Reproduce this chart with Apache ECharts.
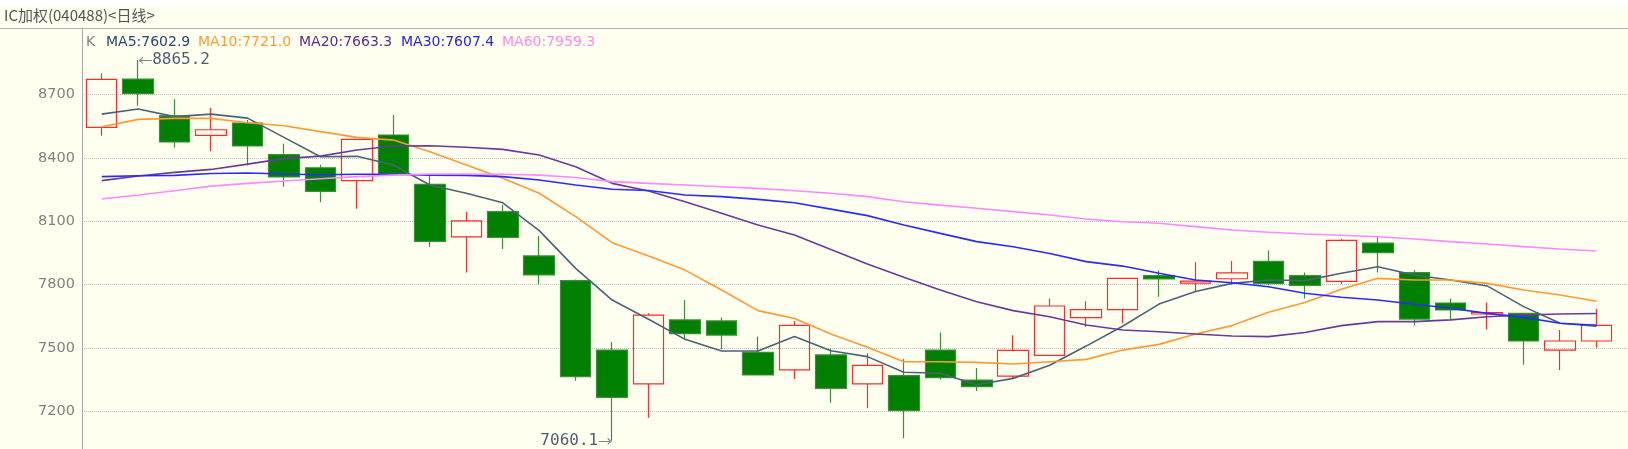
<!DOCTYPE html>
<html>
<head>
<meta charset="utf-8">
<script src="https://cdn.jsdelivr.net/npm/echarts@6/dist/echarts.min.js"></script>
<style>
html,body{margin:0;padding:0;background:#fffff0;}
#chart{width:1628px;height:449px;}
</style>
</head>
<body>
<div id="chart"></div>
<script>
// ---- data ----
const chartTitle = 'IC加权(040488)<日线>';
const categories = ['1','2','3','4','5','6','7','8','9','10','11','12','13','14','15','16','17','18','19','20','21','22','23','24','25','26','27','28','29','30','31','32','33','34','35','36','37','38','39','40','41','42'];
// each candle: [open, close, low, high]
const candles = [
  [8545, 8773, 8506, 8801],
  [8774, 8705, 8648, 8865.2],
  [8600, 8476, 8450, 8678],
  [8507, 8534, 8433, 8638],
  [8566, 8457, 8365, 8580],
  [8416, 8310, 8264, 8468],
  [8354, 8242, 8190, 8368],
  [8293, 8488, 8160, 8490],
  [8509, 8324, 8322, 8604],
  [8275, 8005, 7980, 8320],
  [8026, 8102, 7858, 8146],
  [8146, 8024, 7969, 8177],
  [7936, 7846, 7803, 8030],
  [7819, 7364, 7345, 7825],
  [7490, 7266, 7060.1, 7528],
  [7330, 7656, 7169, 7664],
  [7633, 7568, 7541, 7727],
  [7628, 7561, 7494, 7645],
  [7479, 7372, 7372, 7554],
  [7396, 7607, 7353, 7628],
  [7467, 7309, 7241, 7498],
  [7330, 7418, 7214, 7475],
  [7369, 7203, 7072, 7448],
  [7490, 7360, 7351, 7573],
  [7348, 7317, 7296, 7405],
  [7367, 7489, 7356, 7560],
  [7465, 7699, 7465, 7734],
  [7644, 7682, 7601, 7721],
  [7682, 7830, 7617, 7830],
  [7843, 7827, 7743, 7868],
  [7807, 7817, 7770, 7907],
  [7828, 7856, 7800, 7912],
  [7911, 7805, 7796, 7962],
  [7843, 7797, 7734, 7858],
  [7816, 8010, 7803, 8016],
  [7997, 7952, 7858, 8026],
  [7857, 7637, 7606, 7870],
  [7713, 7680, 7633, 7734],
  [7661, 7668, 7588, 7715],
  [7664, 7533, 7420, 7666],
  [7490, 7533, 7396, 7585],
  [7533, 7607, 7501, 7685]
];
const ma5 = [8608, 8632, 8596, 8608, 8589, 8498, 8406, 8408, 8367, 8272, 8233, 8188, 8056, 7877, 7727, 7636, 7541, 7486, 7486, 7554, 7487, 7459, 7385, 7380, 7326, 7356, 7418, 7509, 7603, 7708, 7768, 7806, 7822, 7819, 7854, 7885, 7846, 7822, 7794, 7696, 7617, 7602.9];
const ma10 = [8548, 8583, 8588, 8588, 8567, 8553, 8525, 8498, 8485, 8430, 8367, 8304, 8233, 8122, 7999, 7936, 7869, 7775, 7677, 7640, 7566, 7503, 7435, 7435, 7432, 7424, 7435, 7446, 7490, 7517, 7566, 7606, 7669, 7715, 7778, 7830, 7822, 7822, 7806, 7775, 7751, 7721.0];
const ma20 = [8293, 8315, 8332, 8346, 8371, 8397, 8409, 8438, 8457, 8458, 8451, 8441, 8414, 8359, 8280, 8244, 8193, 8138, 8083, 8035, 7967, 7898, 7835, 7775, 7719, 7677, 7648, 7609, 7585, 7577, 7566, 7557, 7554, 7573, 7606, 7625, 7625, 7633, 7648, 7656, 7661, 7663.3];
const ma30 = [8312, 8316, 8318, 8327, 8329, 8324, 8321, 8323, 8323, 8319, 8318, 8312, 8296, 8272, 8252, 8246, 8225, 8217, 8204, 8188, 8158, 8127, 8083, 8043, 8004, 7980, 7948, 7909, 7888, 7854, 7822, 7809, 7790, 7759, 7740, 7727, 7707, 7688, 7664, 7645, 7617, 7607.4];
const ma60 = [8206, 8225, 8245, 8267, 8280, 8291, 8302, 8312, 8319, 8324, 8324, 8323, 8319, 8308, 8288, 8280, 8272, 8264, 8256, 8245, 8233, 8217, 8193, 8177, 8162, 8146, 8130, 8111, 8098, 8091, 8075, 8059, 8048, 8040, 8034, 8027, 8016, 8004, 7993, 7980, 7969, 7959.3];
const yTicks = [7200, 7500, 7800, 8100, 8400, 8700];

// ---- derived ----
const last = a => a[a.length - 1].toFixed(1);
let hiIdx = 0, loIdx = 0;
candles.forEach((c, i) => {
  if (c[3] > candles[hiIdx][3]) hiIdx = i;
  if (c[2] < candles[loIdx][2]) loIdx = i;
});

const bg = '#fffff0';
const chart = echarts.init(document.getElementById('chart'), null, {renderer: 'canvas'});

const legendItems = [
  {t: 'K', x: 86, c: '#808080'},
  {t: 'MA5:' + last(ma5), x: 106, c: '#27476e'},
  {t: 'MA10:' + last(ma10), x: 198, c: '#ff9a33'},
  {t: 'MA20:' + last(ma20), x: 299, c: '#5c2d86'},
  {t: 'MA30:' + last(ma30), x: 401, c: '#2424d8'},
  {t: 'MA60:' + last(ma60), x: 502, c: '#ff88ee'}
];

const titles = [{
  text: chartTitle, left: 4, top: 7.5, padding: 0,
  textStyle: {fontFamily: 'Noto Sans CJK SC', fontSize: 15, lineHeight: 15, fontWeight: 'normal', color: '#555555'}
}].concat(legendItems.map(l => ({
  text: l.t, left: l.x, top: 35, padding: 0,
  textStyle: {fontFamily: 'DejaVu Sans', fontSize: 14, lineHeight: 14, fontWeight: 'normal', color: l.c}
})));

const yMin = 7200 - (449 - 411.3) / 0.211067;
const yMax = 8700 + (94.7 - 28) / 0.211067;

const maLine = (name, data, color) => ({
  name, type: 'line', data, xAxisIndex: 2, yAxisIndex: 2,
  symbol: 'none', smooth: false, z: 4,
  lineStyle: {color, width: 1.6}
});

const extremeRich = {
  a: {fontFamily: 'Noto Sans CJK SC', fontSize: 14, color: '#5a6470'},
  n: {fontFamily: 'DejaVu Sans Mono', fontSize: 16, color: '#1e3250'}
};

const option = {
  backgroundColor: bg,
  animation: false,
  title: titles,
  graphic: [
    {type: 'rect', shape: {x: 0, y: 0, width: 1628, height: 7}, style: {fill: '#ffffff'}, z: -1},
    {type: 'line', shape: {x1: 0, y1: 28.5, x2: 1628, y2: 28.5}, style: {stroke: '#b4b4b4', lineWidth: 1}}
  ],
  grid: [
    {left: 82, right: 0, top: 28, bottom: 0},
    {left: 82, right: 0, top: 94.7, bottom: 449 - 411.3},
    {left: 83.5, width: 1531.3, top: 28, bottom: 0}
  ],
  xAxis: [
    {gridIndex: 0, type: 'value', min: 0, max: 1, show: false},
    {gridIndex: 1, type: 'value', min: 0, max: 1, show: false},
    {gridIndex: 2, type: 'category', data: categories, boundaryGap: true, show: false}
  ],
  yAxis: [
    {gridIndex: 0, type: 'value', min: yMin, max: yMax,
     axisLine: {show: true, onZero: false, lineStyle: {color: '#a8a8a8', width: 1}},
     axisTick: {show: false}, axisLabel: {show: false}, splitLine: {show: false}},
    {gridIndex: 1, type: 'value', min: yTicks[0], max: yTicks[yTicks.length - 1], interval: 300,
     axisLine: {show: false}, axisTick: {show: false},
     axisLabel: {color: '#808080', fontSize: 14.5, fontFamily: 'DejaVu Sans', margin: 7, formatter: v => String(v)},
     splitLine: {show: true, lineStyle: {type: 'dotted', color: '#bdbdbd', width: 1}}},
    {gridIndex: 2, type: 'value', min: yMin, max: yMax, show: false, splitLine: {show: false}}
  ],
  series: [
    {
      name: 'K', type: 'candlestick', data: candles, xAxisIndex: 2, yAxisIndex: 2,
      barWidth: 31, z: 3,
      itemStyle: {color: 'transparent', color0: '#007f00', borderColor: '#ff2a2a', borderColor0: '#3a903a', borderWidth: 1.2}
    },
    maLine('MA5', ma5, '#4b6376'),
    maLine('MA10', ma10, '#ff9933'),
    maLine('MA20', ma20, '#6a3a9a'),
    maLine('MA30', ma30, '#2a2aff'),
    maLine('MA60', ma60, '#ff88ff'),
    {
      type: 'scatter', xAxisIndex: 2, yAxisIndex: 2, symbolSize: 0, z: 5, silent: true,
      data: [[hiIdx, candles[hiIdx][3]]],
      label: {show: true, position: 'right', distance: 0, rich: extremeRich,
              formatter: p => '{a|←}{n|' + p.value[1].toFixed(1) + '}'}
    },
    {
      type: 'scatter', xAxisIndex: 2, yAxisIndex: 2, symbolSize: 0, z: 5, silent: true,
      data: [[loIdx, candles[loIdx][2]]],
      label: {show: true, position: 'left', distance: 0, rich: extremeRich,
              formatter: p => '{n|' + p.value[1].toFixed(1) + '}{a|→}'}
    }
  ]
};
chart.setOption(option);
</script>
</body>
</html>
